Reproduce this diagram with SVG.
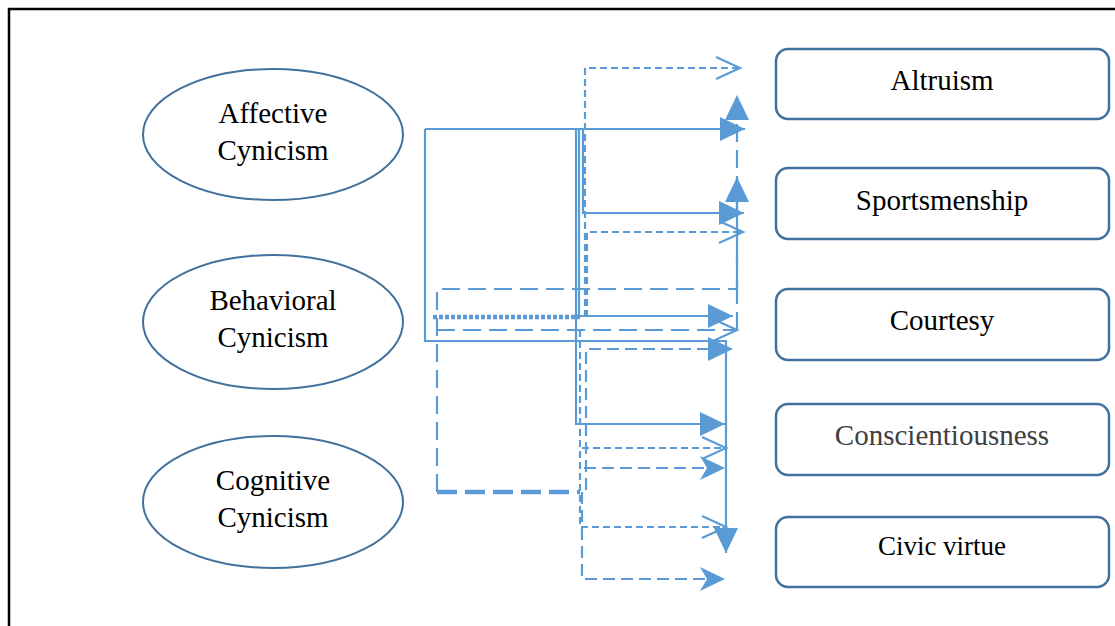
<svg xmlns="http://www.w3.org/2000/svg" width="1115" height="626" viewBox="0 0 1115 626">
<defs>
<style>
.ell{fill:#fff;stroke:#41719C;stroke-width:2}
.box{fill:#fff;stroke:#41719C;stroke-width:2.5}
.t{font-family:"Liberation Serif","Times New Roman",serif;font-size:29px;fill:#000;text-anchor:middle}
.c{fill:none;stroke:#5B9BD5;stroke-width:2.2}
.sd{stroke-dasharray:7,4}
.md{stroke-dasharray:12,6}
.ld{stroke-dasharray:18,8}
.thk{stroke-width:4.5}
</style>
<marker id="af" markerUnits="userSpaceOnUse" markerWidth="27" markerHeight="25" refX="25" refY="12" orient="auto"><path d="M0,0 L25,12 L0,24 z" fill="#5B9BD5"/></marker>
<marker id="ao" markerUnits="userSpaceOnUse" markerWidth="28" markerHeight="26" refX="25" refY="12" orient="auto"><path d="M1,1 L25,12 L1,23" fill="none" stroke="#5B9BD5" stroke-width="2.2"/></marker>
<marker id="as" markerUnits="userSpaceOnUse" markerWidth="27" markerHeight="25" refX="25" refY="12" orient="auto"><path d="M0,0 L25,12 L0,24 L7,12 z" fill="#5B9BD5"/></marker>
</defs>
<rect width="1115" height="626" fill="#fff"/>
<path d="M9,626 V9 H1115" fill="none" stroke="#000" stroke-width="2.5"/>

<g id="connectors">
<path class="c" d="M425,129 H745" marker-end="url(#af)"/>
<path class="c" d="M425,129 V341 H726 V553" marker-end="url(#af)"/>
<path class="c" d="M576,129 V424 H725" marker-end="url(#af)"/>
<path class="c" d="M579,129 V316 H733" marker-end="url(#af)"/>
<path class="c" d="M583,129 V213 H744" marker-end="url(#af)"/>
<path class="c sd" d="M585,317 V68 H740" marker-end="url(#ao)"/>
<path class="c sd" d="M587,317 V232 H743" marker-end="url(#ao)"/>
<path class="c ld" d="M437,492 V289 H737 V95" marker-end="url(#af)"/>
<path class="c ld" d="M737,289 V177" marker-end="url(#af)"/>
<path class="c ld" d="M737,330 V289"/>
<path class="c ld" d="M437,330 H737" marker-end="url(#ao)"/>
<path class="c thk" d="M433,317 H580" style="stroke-dasharray:4,2"/>
<path class="c thk" d="M437,492 H580" style="stroke-dasharray:20,8"/>
<path class="c md" d="M586,490 V349 H733" marker-end="url(#af)"/>
<path class="c sd" d="M580,330 V527 H726" marker-end="url(#ao)"/>
<path class="c sd" d="M582,448 H726" marker-end="url(#ao)"/>
<path class="c md" d="M584,468 H725" marker-end="url(#as)"/>
<path class="c md" d="M582,492 V579 H725" marker-end="url(#as)"/>
</g>

<g id="affective">
<ellipse class="ell" cx="273" cy="134.5" rx="130" ry="65.5"/>
<text class="t" x="273" y="123">Affective</text>
<text class="t" x="273" y="160">Cynicism</text>
</g>
<g id="behavioral">
<ellipse class="ell" cx="273" cy="322" rx="130" ry="67"/>
<text class="t" x="273" y="310">Behavioral</text>
<text class="t" x="273" y="347">Cynicism</text>
</g>
<g id="cognitive">
<ellipse class="ell" cx="273" cy="502" rx="130" ry="66"/>
<text class="t" x="273" y="490">Cognitive</text>
<text class="t" x="273" y="527">Cynicism</text>
</g>

<g id="altruism">
<rect class="box" x="776" y="49" width="333" height="70" rx="12"/>
<text class="t" x="942" y="90">Altruism</text>
</g>
<g id="sportsmenship">
<rect class="box" x="776" y="168" width="333" height="71" rx="12"/>
<text class="t" x="942" y="210">Sportsmenship</text>
</g>
<g id="courtesy">
<rect class="box" x="776" y="289" width="333" height="71" rx="12"/>
<text class="t" x="942" y="330">Courtesy</text>
</g>
<g id="conscientiousness">
<rect class="box" x="776" y="404" width="333" height="71" rx="12"/>
<text class="t" x="942" y="445" style="fill:#404040">Conscientiousness</text>
</g>
<g id="civic">
<rect class="box" x="776" y="517" width="333" height="70" rx="12"/>
<text class="t" x="942" y="555" style="font-size:27px">Civic virtue</text>
</g>
</svg>
